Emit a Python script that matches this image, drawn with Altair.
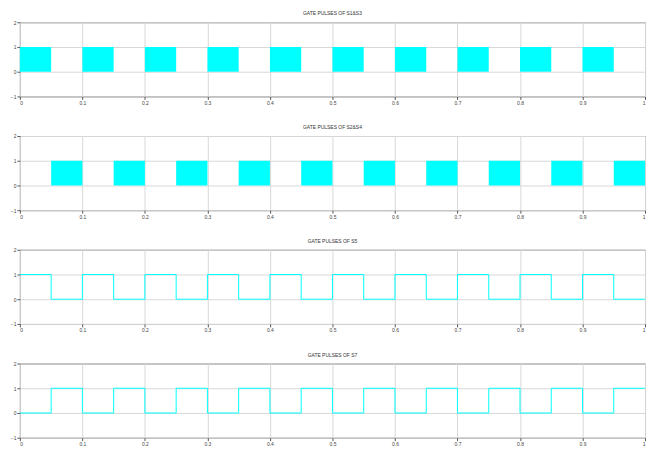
import altair as alt
import pandas as pd

titles = ["GATE PULSES OF S1&S3", "GATE PULSES OF S2&S4", "GATE PULSES OF S5", "GATE PULSES OF S7"]

# block pulses (dense PWM drawn as filled blocks)
s13_start = [0.00, 0.10, 0.20, 0.30, 0.40, 0.50, 0.60, 0.70, 0.80, 0.90]
s13_end   = [0.05, 0.15, 0.25, 0.35, 0.45, 0.55, 0.65, 0.75, 0.85, 0.95]
s24_start = [0.05, 0.15, 0.25, 0.35, 0.45, 0.55, 0.65, 0.75, 0.85, 0.95]
s24_end   = [0.10, 0.20, 0.30, 0.40, 0.50, 0.60, 0.70, 0.80, 0.90, 1.00]

# square waves
s5_t = [0.00, 0.05, 0.10, 0.15, 0.20, 0.25, 0.30, 0.35, 0.40, 0.45, 0.50,
        0.55, 0.60, 0.65, 0.70, 0.75, 0.80, 0.85, 0.90, 0.95, 1.00]
s5_v = [1, 0, 1, 0, 1, 0, 1, 0, 1, 0, 1, 0, 1, 0, 1, 0, 1, 0, 1, 0, 0]
s7_t = s5_t
s7_v = [0, 1, 0, 1, 0, 1, 0, 1, 0, 1, 0, 1, 0, 1, 0, 1, 0, 1, 0, 1, 1]

x_ticks = [0, 0.1, 0.2, 0.3, 0.4, 0.5, 0.6, 0.7, 0.8, 0.9, 1]
y_ticks = [-1, 0, 1, 2]

W, H = 632, 75
CYAN = "#00FFFF"

xs = alt.Scale(domain=[0, 1], nice=False, zero=False)
ys = alt.Scale(domain=[-1, 2], nice=False, zero=False)
xax = alt.Axis(values=x_ticks, title=None, labelFontSize=5, grid=True,
               gridColor="#d8d8d8", tickColor="#555", tickSize=3, labelPadding=1,
               domain=False, labelColor="#444",
               labelExpr="datum.value == 0 ? '0' : datum.value == 1 ? '1' : format(datum.value, '.1f')")
yax = alt.Axis(values=y_ticks, title=None, labelFontSize=5, grid=True,
               gridColor="#d8d8d8", tickColor="#555", tickSize=3, labelPadding=1,
               domain=False, labelColor="#444")


def mk_title(t):
    return alt.TitleParams(t, fontSize=5, fontWeight="normal", color="#333", offset=4, anchor="middle")


def block_panel(title, starts, ends):
    df = pd.DataFrame({"s": starts, "e": ends, "lo": [0] * len(starts), "hi": [1] * len(starts)})
    return alt.Chart(df, title=mk_title(title)).mark_rect(color=CYAN).encode(
        x=alt.X("s:Q", scale=xs, axis=xax),
        x2="e:Q",
        y=alt.Y("lo:Q", scale=ys, axis=yax),
        y2="hi:Q",
    ).properties(width=W, height=H)


def step_panel(title, t, v):
    df = pd.DataFrame({"t": t, "v": v})
    return alt.Chart(df, title=mk_title(title)).mark_line(
        color=CYAN, interpolate="step-after", strokeWidth=1
    ).encode(
        x=alt.X("t:Q", scale=xs, axis=xax),
        y=alt.Y("v:Q", scale=ys, axis=yax),
    ).properties(width=W, height=H)


chart = alt.vconcat(
    block_panel(titles[0], s13_start, s13_end),
    block_panel(titles[1], s24_start, s24_end),
    step_panel(titles[2], s5_t, s5_v),
    step_panel(titles[3], s7_t, s7_v),
    spacing=18,
).properties(
    padding={"left": 1, "top": 0, "right": 0, "bottom": 0}
).configure_view(
    stroke="#666", strokeWidth=1
)

chart.save("out.html", embed_options={"renderer": "svg", "actions": False})
